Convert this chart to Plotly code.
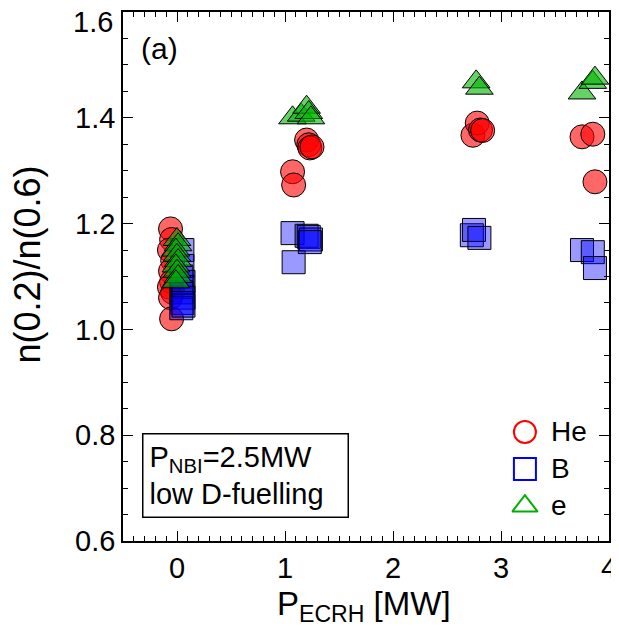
import plotly.graph_objects as go

# He (red circles)
he_x = [-0.06, -0.05, -0.07, -0.04, -0.06, -0.05, -0.07, -0.04, -0.06, -0.05,
        1.07, 1.08, 1.20, 1.22, 1.23, 1.25,
        2.74, 2.78, 2.81, 2.83,
        3.75, 3.85, 3.87]
he_y = [1.19, 1.17, 1.15, 1.13, 1.11, 1.09, 1.08, 1.07, 1.06, 1.02,
        1.298, 1.273, 1.358, 1.349, 1.343, 1.345,
        1.367, 1.39, 1.377, 1.376,
        1.364, 1.369, 1.279]
# B (blue squares)
b_x = [0.05, 0.05, 0.04, 0.06, 0.05, 0.04, 0.06, 0.05, 0.04, 0.06,
       1.07, 1.08, 1.20, 1.22, 1.24, 1.23,
       2.73, 2.75, 2.80,
       3.75, 3.85, 3.87]
b_y = [1.15, 1.12, 1.10, 1.09, 1.08, 1.07, 1.06, 1.05, 1.04, 1.045,
       1.182, 1.127, 1.177, 1.175, 1.17, 1.165,
       1.178, 1.188, 1.173,
       1.150, 1.146, 1.116]
# e (green triangles)
e_x = [0.0, 0.01, -0.01, 0.0, 0.01, -0.01, 0.0, 0.01, -0.01,
       1.07, 1.15, 1.20, 1.22, 1.24,
       2.77, 2.80,
       3.75, 3.85, 3.87]
e_y = [1.17, 1.16, 1.15, 1.14, 1.13, 1.12, 1.11, 1.10, 1.09,
       1.40, 1.405, 1.42, 1.41, 1.40,
       1.468, 1.456,
       1.447, 1.467, 1.475]

series_names = ["He", "B", "e"]
x_ticks = [0, 1, 2, 3, 4]
y_ticks = [0.6, 0.8, 1.0, 1.2, 1.4, 1.6]
font = "Liberation Sans, Arial, Helvetica, sans-serif"

fig = go.Figure()
fig.add_trace(go.Scatter(x=he_x, y=he_y, mode="markers", name=series_names[0], showlegend=False,
                         marker=dict(symbol="circle", size=24, color="rgba(255,0,0,0.6)",
                                     line=dict(color="black", width=1))))
fig.add_trace(go.Scatter(x=b_x, y=b_y, mode="markers", name=series_names[1], showlegend=False,
                         marker=dict(symbol="square", size=23, color="rgba(0,0,255,0.4)",
                                     line=dict(color="black", width=1))))
fig.add_trace(go.Scatter(x=e_x, y=e_y, mode="markers", name=series_names[2], showlegend=False,
                         marker=dict(symbol="triangle-up", size=24, color="rgba(0,180,0,0.6)",
                                     line=dict(color="black", width=1))))

# legend key (open markers) drawn on an overlay axis spanning the plot area 0..1
leg_syms = ["circle-open", "square-open", "triangle-up-open"]
leg_cols = ["red", "blue", "#00b000"]
leg_px = [0.827, 0.827, 0.827]
leg_py = [0.206, 0.136, 0.066]
for n, s, c, lx, ly in zip(series_names, leg_syms, leg_cols, leg_px, leg_py):
    fig.add_trace(go.Scatter(x=[lx], y=[ly], mode="markers", name=n, showlegend=False,
                             xaxis="x2", yaxis="y2", hoverinfo="skip",
                             marker=dict(symbol=s, size=22, color=c, line=dict(width=2, color=c))))
    fig.add_annotation(x=lx, y=ly, xref="x2", yref="y2", xanchor="left", yanchor="middle",
                       xshift=24, yshift=1, text=n, showarrow=False,
                       font=dict(family=font, size=28, color="black"))

axis_common = dict(showline=True, linecolor="black", linewidth=1.5, mirror="allticks",
                   ticks="inside", ticklen=10, tickwidth=1, tickcolor="black",
                   showgrid=False, zeroline=False, automargin=False,
                   ticklabeloverflow="allow",
                   tickfont=dict(family=font, size=29, color="black"))

fig.update_layout(
    xaxis=dict(range=[-0.5, 4.0], tickvals=x_ticks, ticktext=[str(v) for v in x_ticks],
               minor=dict(dtick=0.1, tick0=0, ticks="inside", ticklen=5, tickcolor="black"),
               **axis_common),
    yaxis=dict(range=[0.6, 1.6], tickvals=y_ticks,
               ticktext=["%.1f" % v if v < 1.55 else "" for v in y_ticks],
               minor=dict(dtick=0.05, tick0=0.6, ticks="inside", ticklen=5, tickcolor="black"),
               **axis_common),
    xaxis2=dict(range=[0, 1], overlaying="x", visible=False, fixedrange=True),
    yaxis2=dict(range=[0, 1], overlaying="y", visible=False, fixedrange=True),
)

# top tick label sits just below its tick, as in the original
fig.add_annotation(x=-0.5, y=y_ticks[-1], xref="x", yref="y", xanchor="right", yanchor="middle",
                   xshift=-8, yshift=-10, text="%.1f" % y_ticks[-1], showarrow=False,
                   font=dict(family=font, size=29, color="black"))

# axis titles
fig.add_annotation(x=0.496, y=-0.123, xref="paper", yref="paper", xanchor="center", yanchor="middle",
                   text="P<sub>ECRH</sub> [MW]", showarrow=False,
                   font=dict(family=font, size=33, color="black"))
fig.add_annotation(x=-0.196, y=0.522, xref="paper", yref="paper", xanchor="center", yanchor="middle",
                   text="n(0.2)/n(0.6)", showarrow=False, textangle=-90,
                   font=dict(family=font, size=36, color="black"))

fig.add_annotation(x=0, y=1, xref="paper", yref="paper", xanchor="left", yanchor="top",
                   xshift=16, yshift=-18, text="(a)", showarrow=False,
                   font=dict(family=font, size=30, color="black"))
fig.add_annotation(x=0, y=0, xref="paper", yref="paper", xanchor="left", yanchor="bottom",
                   xshift=19, yshift=23, width=192,
                   text="P<sub>NBI</sub>=2.5MW<br>low D-fuelling", showarrow=False, align="left",
                   bordercolor="black", borderwidth=1.5, borderpad=6, bgcolor="white",
                   font=dict(family=font, size=29, color="black"))

# the page body adds an 8px offset, so the figure is 8px smaller than the window
fig.update_layout(width=611, height=629, margin=dict(l=115, r=10, t=4, b=96),
                  plot_bgcolor="white", paper_bgcolor="white", showlegend=False,
                  font=dict(family=font, color="black"))

fig.write_html("out.html")
